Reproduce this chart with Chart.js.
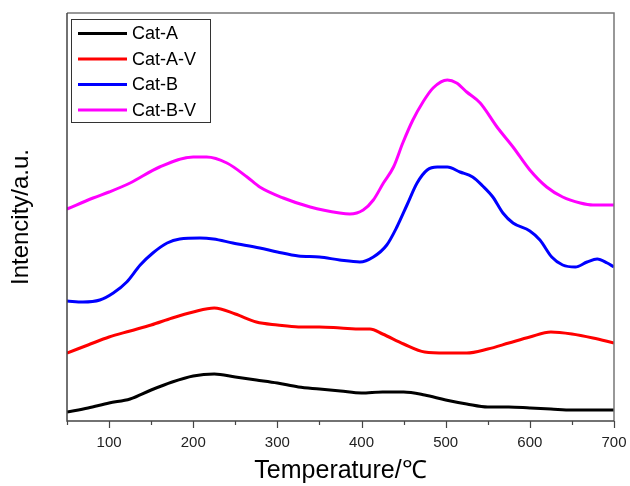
<!DOCTYPE html>
<html>
<head>
<meta charset="utf-8">
<script src="https://cdn.jsdelivr.net/npm/chart.js@4"></script>
<style>
html,body{margin:0;padding:0;background:#fff;}
#wrap{width:630px;height:486px;position:relative;}
</style>
</head>
<body>
<div id="wrap"><canvas id="c" width="630" height="486"></canvas></div>
<script>
const FONT = "'Liberation Sans', Arial, sans-serif";
const seriesNames = ['Cat-A', 'Cat-A-V', 'Cat-B', 'Cat-B-V'];
const seriesColors = ['#000000', '#ff0000', '#0000ff', '#ff00ff'];

const catA_T = [50,75,100,125,150,175,200,225,250,275,300,325,350,375,400,425,450,475,500,525,550,575,600,625,650,675,700];
const catA_I = [9,13,18,22,31,39,45,47,44,41,38,34,32,30,28,29,29,26,21,17,14,14,13,12,11,11,11];

const catAV_T = [50,75,100,125,150,175,200,225,250,275,300,325,350,375,400,410,425,450,475,500,525,550,575,600,625,650,675,700];
const catAV_I = [68,76,84,90,96,103,109,113,107,99,96,94,94,93,92,92,87,77,69,68,68,72,78,84,89,87,83,78];

const catB_T = [50,69,89,105,121,137,152,169,184,208,224,247,279,300,325,350,374,398,414,430,442,454,466,478,490,502,517,532,544,556,568,580,600,612,626,639,654,668,680,692,700];
const catB_I = [120,119,121,128,139,156,168,178,182,183,182,178,173,169,165,164,161,159,164,176,194,216,238,251,254,254,249,244,235,224,208,198,190,181,164,156,154,159,162,158,154];

const catBV_T = [50,81,100,125,160,200,216,240,264,279,307,339,374,386,402,414,426,438,449,461,473,485,502,513,525,541,561,580,600,620,639,660,675,700];
const catBV_I = [212,223,229,238,254,264,264,258,244,234,223,214,208,207,211,221,238,254,278,301,319,333,341,338,329,318,294,274,251,234,224,218,216,216];

const majorTicks = [100,200,300,400,500,600,700];
const minorTicks = [50,150,250,350,450,550,650];

function pts(t, v){ return t.map((x,i)=>({x:x, y:v[i]})); }
const allT = [catA_T, catAV_T, catB_T, catBV_T];
const allI = [catA_I, catAV_I, catB_I, catBV_I];

const datasets = seriesNames.map((n,i)=>({
  label: n,
  data: pts(allT[i], allI[i]),
  borderColor: seriesColors[i],
  backgroundColor: seriesColors[i],
  borderWidth: 3,
  pointRadius: 0,
  cubicInterpolationMode: 'monotone',
  fill: false
}));

const framePlugin = {
  id: 'frame',
  afterDatasetsDraw(chart){
    const ctx = chart.ctx;
    const a = chart.chartArea;
    const xs = chart.scales.x;
    ctx.save();
    ctx.lineWidth = 1.5;
    ctx.strokeStyle = '#777';
    ctx.beginPath();
    ctx.moveTo(a.left, a.top); ctx.lineTo(a.right, a.top); ctx.lineTo(a.right, a.bottom);
    ctx.stroke();
    ctx.strokeStyle = '#444';
    ctx.beginPath();
    ctx.moveTo(a.left, a.top); ctx.lineTo(a.left, a.bottom); ctx.lineTo(a.right, a.bottom);
    ctx.stroke();
    ctx.lineWidth = 1.2;
    majorTicks.forEach(v=>{
      const p = Math.round(xs.getPixelForValue(v))+0.5;
      ctx.beginPath(); ctx.moveTo(p, a.bottom); ctx.lineTo(p, a.bottom+7); ctx.stroke();
    });
    minorTicks.forEach(v=>{
      const p = Math.round(xs.getPixelForValue(v))+0.5;
      ctx.beginPath(); ctx.moveTo(p, a.bottom); ctx.lineTo(p, a.bottom+4); ctx.stroke();
    });
    const lx = a.left + 4, ly = a.top + 6, lw = 139, lh = 103;
    ctx.fillStyle = '#fff';
    ctx.fillRect(lx, ly, lw, lh);
    ctx.strokeStyle = '#333';
    ctx.lineWidth = 1;
    ctx.strokeRect(lx+0.5, ly+0.5, lw, lh);
    ctx.font = '18px ' + FONT;
    ctx.textBaseline = 'middle';
    ctx.textAlign = 'left';
    seriesNames.forEach((n,i)=>{
      const y = ly + 14.5 + i*25.5;
      ctx.strokeStyle = seriesColors[i];
      ctx.lineWidth = 3;
      ctx.beginPath(); ctx.moveTo(lx+7, y); ctx.lineTo(lx+56, y); ctx.stroke();
      ctx.fillStyle = '#000';
      ctx.fillText(n, lx+61, y+1);
    });
    ctx.restore();
  }
};

new Chart(document.getElementById('c'), {
  type: 'line',
  data: { datasets },
  options: {
    responsive: false,
    animation: false,
    layout: { padding: { top: 13, right: 16, left: 0, bottom: 0 } },
    plugins: { legend: { display: false }, tooltip: { enabled: false } },
    scales: {
      x: {
        type: 'linear', min: 50, max: 700,
        grid: { display: false },
        border: { display: false },
        ticks: {
          stepSize: 50, autoSkip: false, maxRotation: 0, padding: 5,
          color: '#222', font: { size: 15, family: FONT },
          callback: v => (v % 100 === 0 ? String(v) : '')
        },
        title: { display: true, text: 'Temperature/℃', color: '#000',
                 font: { size: 25, family: FONT }, padding: { top: 0, bottom: 0 } },
        afterFit: s => { s.height = 65; s.paddingRight = 0; s.paddingLeft = 0; }
      },
      y: {
        min: 0, max: 408,
        grid: { display: false },
        border: { display: false },
        ticks: { display: false },
        title: { display: true, text: 'Intencity/a.u.', color: '#000',
                 font: { size: 24, family: FONT }, padding: { top: 7, bottom: 0 } },
        afterFit: s => { s.width = 67; s.paddingTop = 0; s.paddingBottom = 0; }
      }
    }
  },
  plugins: [framePlugin]
});
</script>
</body>
</html>
